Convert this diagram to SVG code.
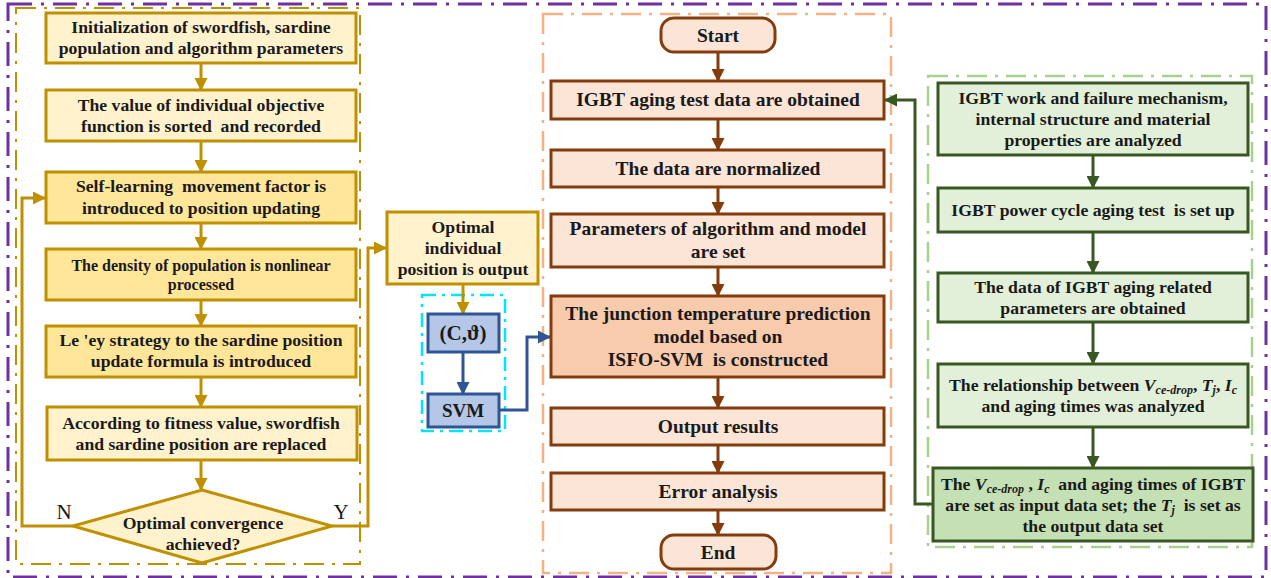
<svg xmlns="http://www.w3.org/2000/svg" width="1271" height="578" viewBox="0 0 1271 578">
<style>
text{font-family:"Liberation Serif","Times New Roman",serif;font-weight:bold;fill:#1a1a1a;text-anchor:middle}
.t16{font-size:17.7px}
.t17{font-size:19.5px}
.gold{fill:#FFF2CC;stroke:#BF9000;stroke-width:3}
.gold2{fill:#FFE699;stroke:#BF9000;stroke-width:3}
.brn{fill:#FBE5D6;stroke:#843C0C;stroke-width:3}
.brn2{fill:#F8CBAD;stroke:#843C0C;stroke-width:3}
.grn{fill:#E2F0D9;stroke:#385723;stroke-width:3}
.grn2{fill:#C5E0B4;stroke:#385723;stroke-width:3}
.blu{fill:#B4C7E7;stroke:#2F5597;stroke-width:3}
.cg{fill:none;stroke:#BF9000;stroke-width:3}
.cb{fill:none;stroke:#843C0C;stroke-width:3}
.cgr{fill:none;stroke:#385723;stroke-width:3}
.cbl{fill:none;stroke:#2F5597;stroke-width:3}
.it{font-style:italic}
.sub{font-style:italic;font-size:12px}
.lbl{font-weight:normal;font-size:21px}
</style>
<defs>
<marker id="ag" markerUnits="userSpaceOnUse" markerWidth="13" markerHeight="13" refX="12" refY="6.5" orient="auto"><path d="M0,0 L13,6.5 L0,13 z" fill="#BF9000"/></marker>
<marker id="ab" markerUnits="userSpaceOnUse" markerWidth="13" markerHeight="13" refX="12" refY="6.5" orient="auto"><path d="M0,0 L13,6.5 L0,13 z" fill="#843C0C"/></marker>
<marker id="agr" markerUnits="userSpaceOnUse" markerWidth="13" markerHeight="13" refX="12" refY="6.5" orient="auto"><path d="M0,0 L13,6.5 L0,13 z" fill="#385723"/></marker>
<marker id="abl" markerUnits="userSpaceOnUse" markerWidth="13" markerHeight="13" refX="12" refY="6.5" orient="auto"><path d="M0,0 L13,6.5 L0,13 z" fill="#2F5597"/></marker>
</defs>

<g id="containers" fill="none">
<rect x="8" y="4" width="1258" height="573" stroke="#7030A0" stroke-width="3" stroke-dasharray="24 9 3 9"/>
<rect x="16" y="8" width="344" height="556" stroke="#BF9000" stroke-width="2" stroke-dasharray="20 8 3 8"/>
<rect x="543" y="14" width="348" height="559" stroke="#F4B183" stroke-width="2.5" stroke-dasharray="20 8 3 8"/>
<rect x="928" y="76" width="324" height="471" stroke="#A9D18E" stroke-width="2.5" stroke-dasharray="20 8 3 8"/>
<rect x="422" y="295" width="83" height="136" stroke="#00E5FF" stroke-width="2.5" stroke-dasharray="14 6 3 6"/>
</g>

<g id="connectors">
<line class="cg" x1="201" y1="63" x2="201" y2="90" marker-end="url(#ag)"/>
<line class="cg" x1="201" y1="141" x2="201" y2="172" marker-end="url(#ag)"/>
<line class="cg" x1="201" y1="223" x2="201" y2="249" marker-end="url(#ag)"/>
<line class="cg" x1="201" y1="300" x2="201" y2="326" marker-end="url(#ag)"/>
<line class="cg" x1="201" y1="377" x2="201" y2="407" marker-end="url(#ag)"/>
<line class="cg" x1="201" y1="460" x2="201" y2="490" marker-end="url(#ag)"/>
<polyline class="cg" points="73,526 22,526 22,198 45,198" marker-end="url(#ag)"/>
<polyline class="cg" points="332,526 368,526 368,248 386,248" marker-end="url(#ag)"/>
<line class="cg" x1="463" y1="284" x2="463" y2="314" marker-end="url(#ag)"/>
<line class="cbl" x1="463" y1="352" x2="463" y2="394" marker-end="url(#abl)"/>
<polyline class="cbl" points="499,410 527,410 527,337 550,337" marker-end="url(#abl)"/>
<line class="cb" x1="718" y1="52" x2="718" y2="81" marker-end="url(#ab)"/>
<line class="cb" x1="718" y1="119" x2="718" y2="150" marker-end="url(#ab)"/>
<line class="cb" x1="718" y1="187" x2="718" y2="214" marker-end="url(#ab)"/>
<line class="cb" x1="718" y1="267" x2="718" y2="296" marker-end="url(#ab)"/>
<line class="cb" x1="718" y1="377" x2="718" y2="408" marker-end="url(#ab)"/>
<line class="cb" x1="718" y1="445" x2="718" y2="473" marker-end="url(#ab)"/>
<line class="cb" x1="718" y1="510" x2="718" y2="535" marker-end="url(#ab)"/>
<line class="cgr" x1="1093" y1="155" x2="1093" y2="188" marker-end="url(#agr)"/>
<line class="cgr" x1="1093" y1="232" x2="1093" y2="273" marker-end="url(#agr)"/>
<line class="cgr" x1="1093" y1="322" x2="1093" y2="364" marker-end="url(#agr)"/>
<line class="cgr" x1="1093" y1="427" x2="1093" y2="468" marker-end="url(#agr)"/>
<polyline class="cgr" points="933,504 915,504 915,100 885,100" marker-end="url(#agr)"/>
<text class="lbl" x="64" y="519">N</text>
<text class="lbl" x="341" y="519">Y</text>
</g>

<g id="l1"><rect class="gold" x="46" y="13" width="310" height="50"/><text class="t16" x="201" y="33">Initialization of swordfish, sardine</text><text class="t16" x="201" y="54">population and algorithm parameters</text></g>
<g id="l2"><rect class="gold" x="46" y="90" width="310" height="51"/><text class="t16" x="201" y="111">The value of individual objective</text><text class="t16" x="201" y="132" xml:space="preserve">function is sorted  and recorded</text></g>
<g id="l3"><rect class="gold2" x="46" y="172" width="310" height="51"/><text class="t16" x="201" y="192" xml:space="preserve">Self-learning  movement factor is</text><text class="t16" x="201" y="214">introduced to position updating</text></g>
<g id="l4"><rect class="gold2" x="46" y="249" width="310" height="51"/><text x="201" y="271" font-size="16">The density of population is nonlinear</text><text x="201" y="290" font-size="16">processed</text></g>
<g id="l5"><rect class="gold2" x="46" y="326" width="310" height="51"/><text class="t16" x="201" y="346">Le 'ey strategy to the sardine position</text><text class="t16" x="201" y="367">update formula is introduced</text></g>
<g id="l6"><rect class="gold" x="47" y="407" width="310" height="53"/><text class="t16" x="201" y="429">According to fitness value, swordfish</text><text class="t16" x="201" y="450">and sardine position are replaced</text></g>
<g id="l7"><polygon class="gold" points="202,490 332,526 202,563 73,526"/><text class="t16" x="203" y="529">Optimal convergence</text><text class="t16" x="203" y="550">achieved?</text></g>

<g id="opt"><rect class="gold" x="387" y="212" width="151" height="72"/><text class="t16" x="463" y="233">Optimal</text><text class="t16" x="463" y="254">individual</text><text class="t16" x="463" y="275">position is output</text></g>
<g id="cth"><rect class="blu" x="428" y="314" width="71" height="38"/><text x="463" y="340" font-size="21">(C,ϑ)</text></g>
<g id="svm"><rect class="blu" x="428" y="394" width="71" height="33"/><text x="463" y="417" font-size="19">SVM</text></g>

<g id="m0"><rect class="brn" x="661" y="18" width="114" height="34" rx="13"/><text class="t17" x="718" y="42">Start</text></g>
<g id="m1"><rect class="brn" x="551" y="81" width="333" height="38"/><text class="t17" x="718" y="106">IGBT aging test data are obtained</text></g>
<g id="m2"><rect class="brn" x="551" y="150" width="333" height="37"/><text class="t17" x="718" y="175">The data are normalized</text></g>
<g id="m3"><rect class="brn" x="551" y="214" width="333" height="53"/><text class="t17" x="718" y="235">Parameters of algorithm and model</text><text class="t17" x="718" y="258">are set</text></g>
<g id="m4"><rect class="brn2" x="551" y="296" width="333" height="81"/><text class="t17" x="718" y="320">The junction temperature prediction</text><text class="t17" x="718" y="343">model based on</text><text class="t17" x="718" y="366" xml:space="preserve">ISFO-SVM  is constructed</text></g>
<g id="m5"><rect class="brn" x="551" y="408" width="333" height="37"/><text class="t17" x="718" y="433">Output results</text></g>
<g id="m6"><rect class="brn" x="551" y="473" width="333" height="37"/><text class="t17" x="718" y="498">Error analysis</text></g>
<g id="m7"><rect class="brn" x="661" y="535" width="115" height="34" rx="13"/><text class="t17" x="718" y="559">End</text></g>

<g id="r1"><rect class="grn" x="938" y="83" width="310" height="72"/><text class="t16" x="1093" y="104">IGBT work and failure mechanism,</text><text class="t16" x="1093" y="125">internal structure and material</text><text class="t16" x="1093" y="146">properties are analyzed</text></g>
<g id="r2"><rect class="grn" x="938" y="188" width="310" height="44"/><text class="t16" x="1093" y="216" xml:space="preserve">IGBT power cycle aging test  is set up</text></g>
<g id="r3"><rect class="grn" x="938" y="273" width="310" height="49"/><text class="t16" x="1093" y="293">The data of IGBT aging related</text><text class="t16" x="1093" y="314">parameters are obtained</text></g>
<g id="r4"><rect class="grn" x="938" y="364" width="310" height="63"/><text class="t16" x="1093" y="391">The relationship between <tspan class="it">V</tspan><tspan class="sub" dy="3">ce-drop</tspan><tspan dy="-3">, </tspan><tspan class="it">T</tspan><tspan class="sub" dy="3">j</tspan><tspan dy="-3">, </tspan><tspan class="it">I</tspan><tspan class="sub" dy="3">c</tspan></text><text class="t16" x="1093" y="412">and aging times was analyzed</text></g>
<g id="r5"><rect class="grn2" x="933" y="468" width="320" height="73"/><text class="t16" x="1093" y="490" xml:space="preserve">The <tspan class="it">V</tspan><tspan class="sub" dy="3">ce-drop</tspan><tspan dy="-3"> , </tspan><tspan class="it">I</tspan><tspan class="sub" dy="3">c</tspan><tspan dy="-3">  and aging times of IGBT</tspan></text><text class="t16" x="1093" y="511" xml:space="preserve">are set as input data set; the <tspan class="it">T</tspan><tspan class="sub" dy="3">j</tspan><tspan dy="-3">  is set as</tspan></text><text class="t16" x="1093" y="532">the output data set</text></g>
</svg>
